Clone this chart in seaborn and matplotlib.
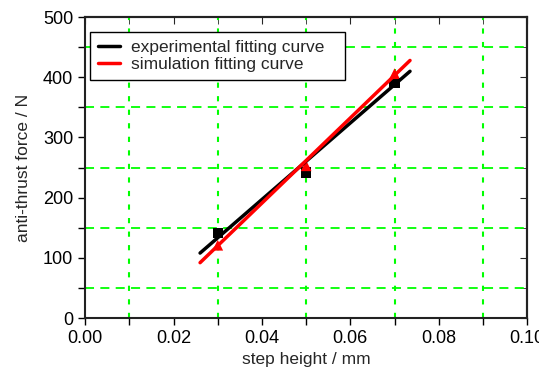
import seaborn as sns
import pandas as pd
import matplotlib.pyplot as plt
from matplotlib.ticker import MultipleLocator

# measured points
step_height = [0.03, 0.05, 0.07]
exp_force = [141, 242, 390]
sim_force = [121, 253, 406]

# fitting line end points
fit_x = [0.026, 0.0735]
exp_fit = [108, 410]
sim_fit = [92, 428]

xticks = [0.00, 0.02, 0.04, 0.06, 0.08, 0.10]
yticks = [0, 100, 200, 300, 400, 500]

sns.set_style('white')
plt.rcParams['font.family'] = ['Liberation Sans', 'DejaVu Sans']

fig = plt.figure(figsize=(5.39, 3.72), dpi=100)
ax = fig.add_axes([0.158, 0.145, 0.82, 0.809])

pts = pd.DataFrame({'x': step_height, 'exp': exp_force, 'sim': sim_force})
fits = pd.DataFrame({'x': fit_x, 'exp': exp_fit, 'sim': sim_fit})

sns.lineplot(data=fits, x='x', y='exp', color='black', lw=2.5,
             label='experimental fitting curve', ax=ax, zorder=4)
sns.lineplot(data=fits, x='x', y='sim', color='#ff0000', lw=2.5,
             label='simulation fitting curve', ax=ax, zorder=5)
sns.scatterplot(data=pts, x='x', y='exp', marker='s', color='black', s=55,
                edgecolor='none', ax=ax, zorder=3, legend=False)
sns.scatterplot(data=pts, x='x', y='sim', marker='^', color='#ff0000', s=60,
                edgecolor='none', ax=ax, zorder=3, legend=False)

ax.set_xlim(0, 0.10)
ax.set_ylim(0, 500)
ax.set_xticks(xticks)
ax.set_xticklabels([f'{t:.2f}' for t in xticks])
ax.set_yticks(yticks)
ax.xaxis.set_minor_locator(MultipleLocator(0.01))
ax.yaxis.set_minor_locator(MultipleLocator(50))

# grid only on the odd (minor) positions
ax.grid(False)
ax.yaxis.grid(which='minor', color='#00ff00', ls=(0, (5, 3.5)), lw=1.3)
ax.xaxis.grid(which='minor', color='#00ff00', ls=(0, (2.5, 4)), lw=1.5)

ax.tick_params(which='both', direction='out', length=5, width=1,
               colors='black', labelsize=13, bottom=True, left=True,
               top=False, right=False)
sec_x = ax.secondary_xaxis('top')
sec_x.set_xticks(xticks)
sec_x.xaxis.set_minor_locator(MultipleLocator(0.01))
sec_x.tick_params(which='both', direction='in', length=5, labeltop=False)
sec_y = ax.secondary_yaxis('right')
sec_y.set_yticks(yticks)
sec_y.yaxis.set_minor_locator(MultipleLocator(50))
sec_y.tick_params(which='both', direction='in', length=5, labelright=False)

for s in list(ax.spines.values()) + list(sec_x.spines.values()) + list(sec_y.spines.values()):
    s.set_color('#222222')
    s.set_linewidth(1.5)

ax.set_xlabel('step height / mm', fontsize=12.5, labelpad=4)
ax.set_ylabel('anti-thrust force / N', fontsize=12.5, labelpad=9)

leg = ax.legend(loc='upper left', bbox_to_anchor=(0.011, 0.801, 0.577, 0.149),
                mode='expand', fontsize=12.5, frameon=True, fancybox=False,
                handlelength=1.3, borderpad=0.45, labelspacing=0.1,
                handletextpad=0.6, borderaxespad=0)
leg.get_frame().set_edgecolor('black')
leg.get_frame().set_linewidth(1)
leg.get_frame().set_alpha(1)
leg.set_zorder(10)

plt.savefig('out.png', dpi=100)
